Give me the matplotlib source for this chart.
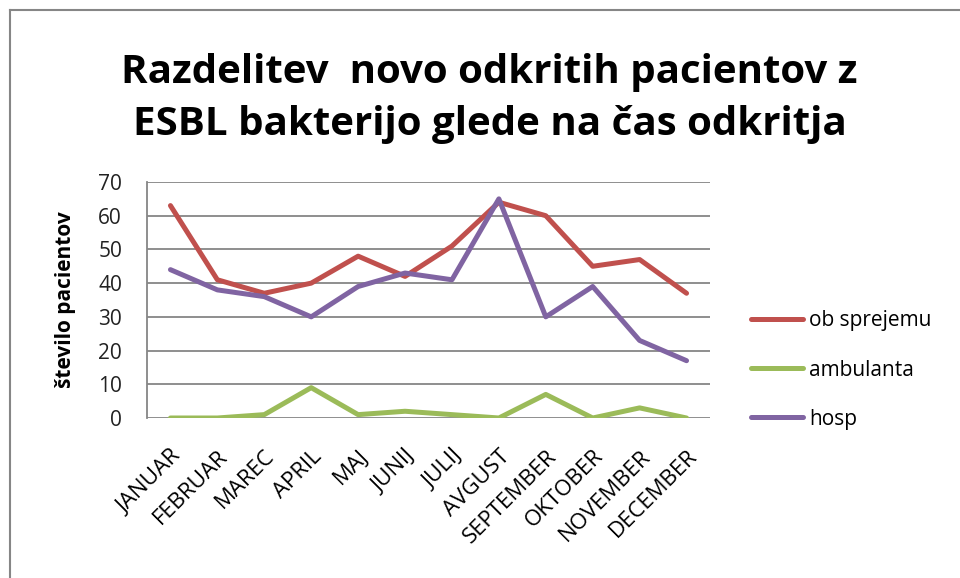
import matplotlib.pyplot as plt
from matplotlib.lines import Line2D

# Podatki
meseci = ["JANUAR", "FEBRUAR", "MAREC", "APRIL", "MAJ", "JUNIJ", "JULIJ",
          "AVGUST", "SEPTEMBER", "OKTOBER", "NOVEMBER", "DECEMBER"]
ob_sprejemu = [63, 41, 37, 40, 48, 42, 51, 64, 60, 45, 47, 37]
ambulanta = [0, 0, 1, 9, 1, 2, 1, 0, 7, 0, 3, 0]
hosp = [44, 38, 36, 30, 39, 43, 41, 65, 30, 39, 23, 17]
y_ticks = [0, 10, 20, 30, 40, 50, 60, 70]

plt.rcParams['font.family'] = ['Open Sans', 'DejaVu Sans']

fig = plt.figure(figsize=(9.6, 5.78), dpi=100)
ax = fig.add_axes([147 / 960, 1 - 418 / 578, (710 - 147) / 960, (418 - 182) / 578])

x = range(len(meseci))
ax.plot(x, ob_sprejemu, color='#C0504D', linewidth=3.6, label='ob sprejemu', solid_capstyle='round')
ax.plot(x, ambulanta, color='#9BBB59', linewidth=3.6, label='ambulanta', solid_capstyle='round')
ax.plot(x, hosp, color='#8064A2', linewidth=3.6, label='hosp', solid_capstyle='round')

ax.set_xlim(-0.5, len(meseci) - 0.5)
ax.set_ylim(0, 70)
ax.set_yticks(y_ticks)
ax.set_yticklabels([str(v) for v in y_ticks], fontsize=15, color='#222222')
ax.set_xticks(list(x))
ax.set_xticklabels(meseci, rotation=45, ha='right', rotation_mode='anchor', fontsize=16)
ax.tick_params(axis='y', length=0, pad=18)
ax.tick_params(axis='x', length=0, pad=20)

ax.grid(axis='y', color='#868686', linewidth=1.3)
ax.set_axisbelow(True)
for s in ['top', 'right', 'bottom']:
    ax.spines[s].set_visible(False)
ax.spines['left'].set_color('#868686')
ax.spines['left'].set_linewidth(1.3)

ax.set_ylabel("število pacientov", fontsize=15, fontweight='bold', labelpad=16)

fig.text(0.51, 1 - 72 / 578, "Razdelitev  novo odkritih pacientov z", ha='center', va='center',
         fontsize=29, fontweight='bold')
fig.text(0.51, 1 - 125 / 578, "ESBL bakterijo glede na čas odkritja", ha='center', va='center',
         fontsize=29, fontweight='bold')

fig.legend(loc='center left', bbox_to_anchor=(732 / 960, 1 - 370 / 578), frameon=False,
           handlelength=2.5, labelspacing=1.35, handletextpad=0.3,
           prop={'size': 15})

# okvir
fig.add_artist(Line2D([10 / 960, 10 / 960], [0, 1 - 10 / 578], color='#868686', linewidth=1.5))
fig.add_artist(Line2D([10 / 960, 1], [1 - 10 / 578, 1 - 10 / 578], color='#868686', linewidth=1.5))

fig.savefig("out.png", dpi=100, facecolor='white')
